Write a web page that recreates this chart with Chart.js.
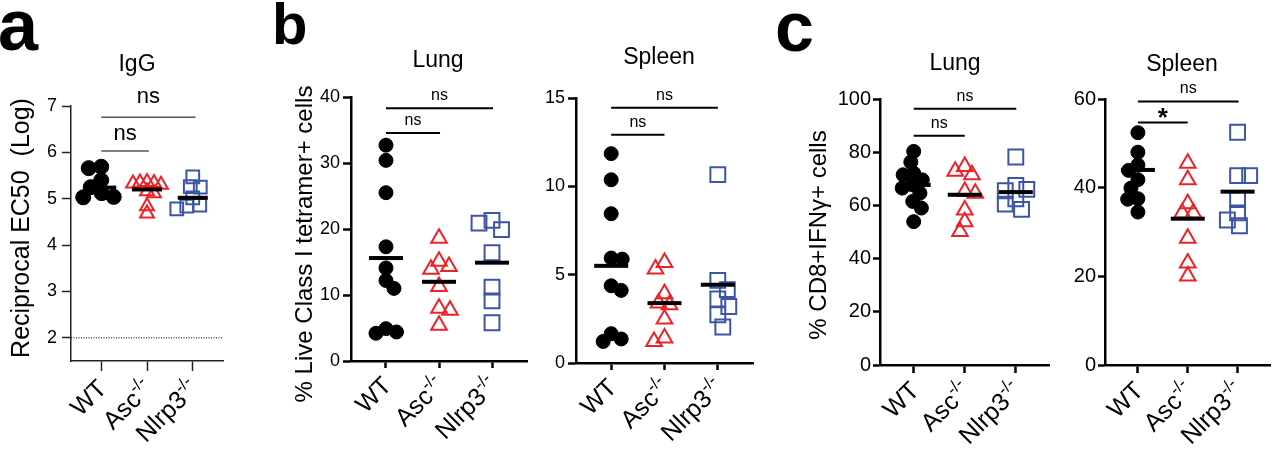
<!DOCTYPE html>
<html><head><meta charset="utf-8">
<script src="https://cdn.jsdelivr.net/npm/chart.js@4.4.1/dist/chart.umd.min.js"></script>
<style>
html,body{margin:0;padding:0;background:#fff;}
body{width:1283px;height:449px;position:relative;overflow:hidden;font-family:'Liberation Sans',Arial,sans-serif;}
canvas{position:absolute;top:0;}
.letter{position:absolute;font-weight:bold;line-height:1;color:#000;font-family:'Liberation Sans',Arial,sans-serif;}
</style></head><body>
<canvas id="cA" width="240" height="449" style="left:0px;width:240px;height:449px"></canvas>
<canvas id="cB1" width="290" height="449" style="left:250px;width:290px;height:449px"></canvas>
<canvas id="cB2" width="230" height="449" style="left:540px;width:230px;height:449px"></canvas>
<canvas id="cC1" width="292" height="449" style="left:770px;width:292px;height:449px"></canvas>
<canvas id="cC2" width="221" height="449" style="left:1062px;width:221px;height:449px"></canvas>
<div class="letter" style="left:-2px;top:-11px;font-size:72px">a</div>
<div class="letter" style="left:272px;top:-5px;font-size:58px">b</div>
<div class="letter" style="left:775px;top:-8px;font-size:70px">c</div>
<script>
const FONT = "'Liberation Sans', Arial, Helvetica, sans-serif";

// ---- categories ----
const GROUPS = ['WT', 'Asc', 'Nlrp3'];
const GROUP_SUP = ['', '-/-', '-/-'];

// ---- panel a: IgG reciprocal EC50 (log) ----
const IGG_TICKS = [2, 3, 4, 5, 6, 7];
const IGG_WT = [5.69, 5.66, 5.40, 5.25, 5.12, 5.04, 5.03];
const IGG_ASC = [5.36, 5.35, 5.34, 5.33, 5.30, 5.16, 5.12, 4.84, 4.68];
const IGG_NLRP3 = [5.47, 5.26, 5.25, 5.02, 4.86, 4.84, 4.78];
const IGG_MEANS = [5.24, 5.20, 5.02];
const IGG_LIMIT = 2;

// ---- panel b: % live class I tetramer+ cells ----
const TET_LUNG_TICKS = [0, 10, 20, 30, 40];
const TET_LUNG_WT = [32.7, 30.4, 25.5, 17.3, 14.1, 12.2, 11.0, 4.9, 4.4, 4.2];
const TET_LUNG_ASC = [18.6, 15.1, 14.3, 13.9, 11.3, 8.0, 7.7, 5.4];
const TET_LUNG_NLRP3 = [21.3, 20.9, 19.9, 16.4, 11.2, 9.1, 5.8];
const TET_LUNG_MEANS = [15.6, 12.0, 14.9];

const TET_SPLEEN_TICKS = [0, 5, 10, 15];
const TET_SPLEEN_WT = [11.85, 10.37, 8.45, 5.94, 5.88, 4.37, 4.11, 1.66, 1.36, 1.22];
const TET_SPLEEN_ASC = [5.69, 5.32, 3.92, 3.39, 3.30, 2.49, 1.41, 1.22];
const TET_SPLEEN_NLRP3 = [10.66, 4.68, 4.15, 3.62, 3.20, 2.73, 2.04];
const TET_SPLEEN_MEANS = [5.5, 3.39, 4.43];

// ---- panel c: % CD8+IFNγ+ cells ----
const IFN_LUNG_TICKS = [0, 20, 40, 60, 80, 100];
const IFN_LUNG_WT = [80.3, 76.3, 72.1, 71.5, 69.6, 67.7, 66.5, 64.6, 61.5, 59.0, 53.9];
const IFN_LUNG_ASC = [74.6, 72.8, 71.5, 65.2, 64.6, 58.3, 53.9, 50.2];
const IFN_LUNG_NLRP3 = [78.2, 67.5, 66.0, 65.5, 62.5, 60.5, 58.5];
const IFN_LUNG_MEANS = [67.7, 64.0, 65.0];

const IFN_SPLEEN_TICKS = [0, 20, 40, 60];
const IFN_SPLEEN_WT = [52.4, 48.0, 45.1, 43.9, 41.8, 39.9, 37.5, 37.4, 34.5];
const IFN_SPLEEN_ASC = [45.5, 41.8, 36.4, 34.3, 34.3, 28.6, 23.0, 20.1];
const IFN_SPLEEN_NLRP3 = [52.5, 42.7, 42.7, 37.3, 34.3, 32.7, 31.4];
const IFN_SPLEEN_MEANS = [44.0, 33.0, 39.1];

// ---- styles ----
const X_MIN = -0.66, X_MAX = 2.66;
const RED = '#ec2227', BLUE = '#3d55a5';
const SHAPES = [
  {style: 'circle', fill: '#000', color: '#000', bw: 1},
  {style: 'triangle', fill: 'rgba(0,0,0,0)', color: RED, bw: 2},
  {style: 'rect', fill: 'rgba(0,0,0,0)', color: BLUE, bw: 2}
];

function beeswarm(values, pxY, pxX, minDist) {
  const order = values.map((v, i) => i).sort((a, b) => values[b] - values[a]);
  const placed = [];
  const off = new Array(values.length).fill(0);
  let k = 0;
  for (const i of order) {
    const y = values[i] * pxY;
    const sign = (k++ % 2 === 0) ? 1 : -1;
    let best = 0, found = false;
    for (let s = 0; s <= 100 && !found; s += 0.5) {
      for (const sg of [sign, -sign]) {
        const dx = s * sg;
        if (placed.every(p => (p.x - dx) ** 2 + (p.y - y) ** 2 >= minDist * minDist)) {
          best = dx; found = true; break;
        }
      }
    }
    placed.push({x: best, y});
    off[i] = best / pxX;
  }
  return off;
}

const PANELS = [
  {id: 'cA', left: 0, area: {L: 71, R: 223, T: 106, B: 361}, yMin: 1.5, yMax: 7, ticks: IGG_TICKS,
   groups: [IGG_WT, IGG_ASC, IGG_NLRP3], means: IGG_MEANS, refLine: IGG_LIMIT,
   title: 'IgG', titlePos: [137, 71], ytitle: 'Reciprocal EC50  (Log)', ytitlePos: [22, 228], ytitleSize: 25,
   tickFont: 18, yTickLen: 9, yTickPad: 5, xTickLen: 10, axisW: 1.5, axisColor: '#222',
   radius: [7.5, 8, 9], minDist: [12.5, 7, 10], meanHalf: 15, meanTh: 4,
   bracketColor: '#555', bracketW: 1.5,
   brackets: [{x0: 0, x1: 2.06, y: 6.76, label: 'ns', size: 22, dy: 14},
              {x0: 0, x1: 1.04, y: 6.03, label: 'ns', size: 22, dy: 11}]},
  {id: 'cB1', left: 250, area: {L: 351, R: 527, T: 97, B: 361}, yMin: 0, yMax: 40, ticks: TET_LUNG_TICKS,
   groups: [TET_LUNG_WT, TET_LUNG_ASC, TET_LUNG_NLRP3], means: TET_LUNG_MEANS,
   title: 'Lung', titlePos: [188, 67], ytitle: '% Live Class I tetramer+ cells', ytitlePos: [55, 244], ytitleSize: 24,
   tickFont: 18, yTickLen: 8, yTickPad: 3, xTickLen: 7, axisW: 2.5, axisColor: '#000',
   radius: [7, 9, 10.5], minDist: [11, 11, 13], meanHalf: 17, meanTh: 4,
   bracketColor: '#000', bracketW: 2,
   brackets: [{x0: 0, x1: 2.02, y: 38.3, label: 'ns', size: 16, dy: 8},
              {x0: 0, x1: 1.02, y: 34.55, label: 'ns', size: 16, dy: 8}]},
  {id: 'cB2', left: 540, area: {L: 576, R: 753, T: 98, B: 363}, yMin: 0, yMax: 15, ticks: TET_SPLEEN_TICKS,
   groups: [TET_SPLEEN_WT, TET_SPLEEN_ASC, TET_SPLEEN_NLRP3], means: TET_SPLEEN_MEANS,
   title: 'Spleen', titlePos: [119, 64],
   tickFont: 18, yTickLen: 8, yTickPad: 3, xTickLen: 7, axisW: 2.5, axisColor: '#000',
   radius: [7, 9, 10.5], minDist: [11, 11, 13], meanHalf: 17, meanTh: 4,
   bracketColor: '#000', bracketW: 2,
   brackets: [{x0: 0, x1: 2.0, y: 14.45, label: 'ns', size: 16, dy: 8},
              {x0: 0, x1: 1.0, y: 12.92, label: 'ns', size: 16, dy: 8}]},
  {id: 'cC1', left: 770, area: {L: 880, R: 1057, T: 99, B: 365}, yMin: 0, yMax: 100, ticks: IFN_LUNG_TICKS,
   groups: [IFN_LUNG_WT, IFN_LUNG_ASC, IFN_LUNG_NLRP3], means: IFN_LUNG_MEANS,
   title: 'Lung', titlePos: [185, 70], ytitle: '% CD8+IFNγ+ cells', ytitlePos: [49, 235], ytitleSize: 24,
   tickFont: 20, yTickLen: 7, yTickPad: 2, xTickLen: 8, axisW: 2.5, axisColor: '#000',
   radius: [7, 9, 10.5], minDist: [11, 11, 12], meanHalf: 17, meanTh: 4,
   bracketColor: '#000', bracketW: 2,
   brackets: [{x0: 0, x1: 2.01, y: 96.35, label: 'ns', size: 16, dy: 8},
              {x0: 0, x1: 1.0, y: 86.2, label: 'ns', size: 16, dy: 8}]},
  {id: 'cC2', left: 1062, area: {L: 1105, R: 1283, T: 99, B: 365}, yMin: 0, yMax: 60, ticks: IFN_SPLEEN_TICKS,
   groups: [IFN_SPLEEN_WT, IFN_SPLEEN_ASC, IFN_SPLEEN_NLRP3], means: IFN_SPLEEN_MEANS,
   title: 'Spleen', titlePos: [120, 71],
   tickFont: 20, yTickLen: 7, yTickPad: 2, xTickLen: 8, axisW: 2.5, axisColor: '#000',
   radius: [7, 9, 10.5], minDist: [11, 11, 13], meanHalf: 17, meanTh: 4,
   bracketColor: '#000', bracketW: 2,
   brackets: [{x0: 0, x1: 2.02, y: 59.46, label: 'ns', size: 16, dy: 8},
              {x0: 0, x1: 1.0, y: 54.7, label: '*', size: 26, bold: true, dy: -4}]}
];

function decoPlugin(p) {
  return {
    id: 'deco_' + p.id,
    beforeDatasetsDraw(chart) {
      if (p.refLine === undefined) return;
      const ctx = chart.ctx, a = chart.chartArea, ys = chart.scales.y;
      const y = ys.getPixelForValue(p.refLine);
      ctx.save();
      ctx.strokeStyle = '#000'; ctx.lineWidth = 1; ctx.setLineDash([1, 1.5]);
      ctx.beginPath(); ctx.moveTo(a.left, y); ctx.lineTo(a.right, y); ctx.stroke();
      ctx.restore();
    },
    afterDatasetsDraw(chart) {
      const ctx = chart.ctx, xs = chart.scales.x, ys = chart.scales.y;
      ctx.save();
      ctx.fillStyle = '#000';
      p.means.forEach((m, i) => {
        const xc = xs.getPixelForValue(i), yc = ys.getPixelForValue(m);
        ctx.fillRect(xc - p.meanHalf, yc - p.meanTh / 2, p.meanHalf * 2, p.meanTh);
      });
      ctx.restore();
    },
    afterDraw(chart) {
      const ctx = chart.ctx, a = chart.chartArea, xs = chart.scales.x, ys = chart.scales.y;
      ctx.save();
      ctx.fillStyle = '#000';
      // title
      ctx.font = '23px ' + FONT;
      ctx.textAlign = 'center'; ctx.textBaseline = 'alphabetic';
      ctx.fillText(p.title, p.titlePos[0], p.titlePos[1]);
      // y title
      if (p.ytitle) {
        ctx.save();
        ctx.translate(p.ytitlePos[0], p.ytitlePos[1]);
        ctx.rotate(-Math.PI / 2);
        ctx.font = p.ytitleSize + 'px ' + FONT;
        ctx.textAlign = 'center'; ctx.textBaseline = 'middle';
        ctx.fillText(p.ytitle, 0, 0);
        ctx.restore();
      }
      // x labels
      GROUPS.forEach((g, i) => {
        const tx = xs.getPixelForValue(i);
        const ty = a.bottom + p.xTickLen;
        ctx.save();
        ctx.translate(tx + 2, ty + 14);
        ctx.rotate(-Math.PI / 4);
        ctx.textBaseline = 'middle'; ctx.textAlign = 'left';
        ctx.font = '25px ' + FONT;
        const wMain = ctx.measureText(g).width;
        ctx.font = '17px ' + FONT;
        const wSup = GROUP_SUP[i] ? ctx.measureText(GROUP_SUP[i]).width : 0;
        ctx.font = '25px ' + FONT;
        ctx.fillText(g, -(wMain + wSup), 0);
        if (GROUP_SUP[i]) {
          ctx.font = '17px ' + FONT;
          ctx.fillText(GROUP_SUP[i], -wSup, -8);
        }
        ctx.restore();
      });
      // brackets
      p.brackets.forEach(b => {
        const x0 = xs.getPixelForValue(b.x0), x1 = xs.getPixelForValue(b.x1);
        const y = ys.getPixelForValue(b.y);
        ctx.strokeStyle = p.bracketColor; ctx.lineWidth = p.bracketW;
        ctx.beginPath(); ctx.moveTo(x0, y); ctx.lineTo(x1, y); ctx.stroke();
        ctx.font = (b.bold ? 'bold ' : '') + b.size + 'px ' + FONT;
        ctx.textAlign = 'center'; ctx.textBaseline = 'alphabetic';
        ctx.fillText(b.label, (x0 + x1) / 2, y - b.dy);
      });
      ctx.restore();
    }
  };
}

Chart.defaults.font.family = FONT;
Chart.defaults.color = '#000';

PANELS.forEach(p => {
  const el = document.getElementById(p.id);
  const W = el.width, H = el.height;
  const L = p.area.L - p.left, R = p.area.R - p.left;
  const areaW = p.area.R - p.area.L, areaH = p.area.B - p.area.T;
  const pxX = areaW / (X_MAX - X_MIN), pxY = areaH / (p.yMax - p.yMin);
  const datasets = p.groups.map((vals, gi) => {
    const st = SHAPES[gi];
    const off = beeswarm(vals, pxY, pxX, p.minDist[gi]);
    return {
      label: GROUPS[gi],
      data: vals.map((v, i) => ({x: gi + off[i], y: v})),
      pointStyle: st.style,
      pointRadius: p.radius[gi],
      pointHoverRadius: p.radius[gi],
      pointBackgroundColor: st.fill,
      pointBorderColor: st.color,
      pointBorderWidth: st.bw,
      showLine: false,
      clip: false
    };
  });
  new Chart(el, {
    type: 'scatter',
    data: {datasets},
    options: {
      responsive: false, animation: false, devicePixelRatio: 1, events: [],
      layout: {padding: {left: 0, top: p.area.T, right: W - R, bottom: H - p.area.B - p.xTickLen}},
      plugins: {legend: {display: false}, tooltip: {enabled: false}, title: {display: false}},
      scales: {
        x: {
          type: 'linear', min: X_MIN, max: X_MAX,
          afterBuildTicks: s => { s.ticks = [0, 1, 2].map(v => ({value: v})); },
          afterFit: s => { s.height = p.xTickLen; },
          grid: {display: true, drawOnChartArea: false, drawTicks: true, tickLength: p.xTickLen,
                 tickWidth: p.axisW, tickColor: p.axisColor, color: p.axisColor},
          border: {display: true, color: p.axisColor, width: p.axisW},
          ticks: {display: false}
        },
        y: {
          type: 'linear', min: p.yMin, max: p.yMax,
          afterBuildTicks: s => { s.ticks = p.ticks.map(v => ({value: v})); },
          afterFit: s => { s.width = L; },
          grid: {display: true, drawOnChartArea: false, drawTicks: true, tickLength: p.yTickLen,
                 tickWidth: p.axisW, tickColor: p.axisColor, color: p.axisColor},
          border: {display: true, color: p.axisColor, width: p.axisW},
          ticks: {color: '#000', font: {family: FONT, size: p.tickFont}, padding: p.yTickPad}
        }
      }
    },
    plugins: [decoPlugin(p)]
  });
});
</script>
</body></html>
